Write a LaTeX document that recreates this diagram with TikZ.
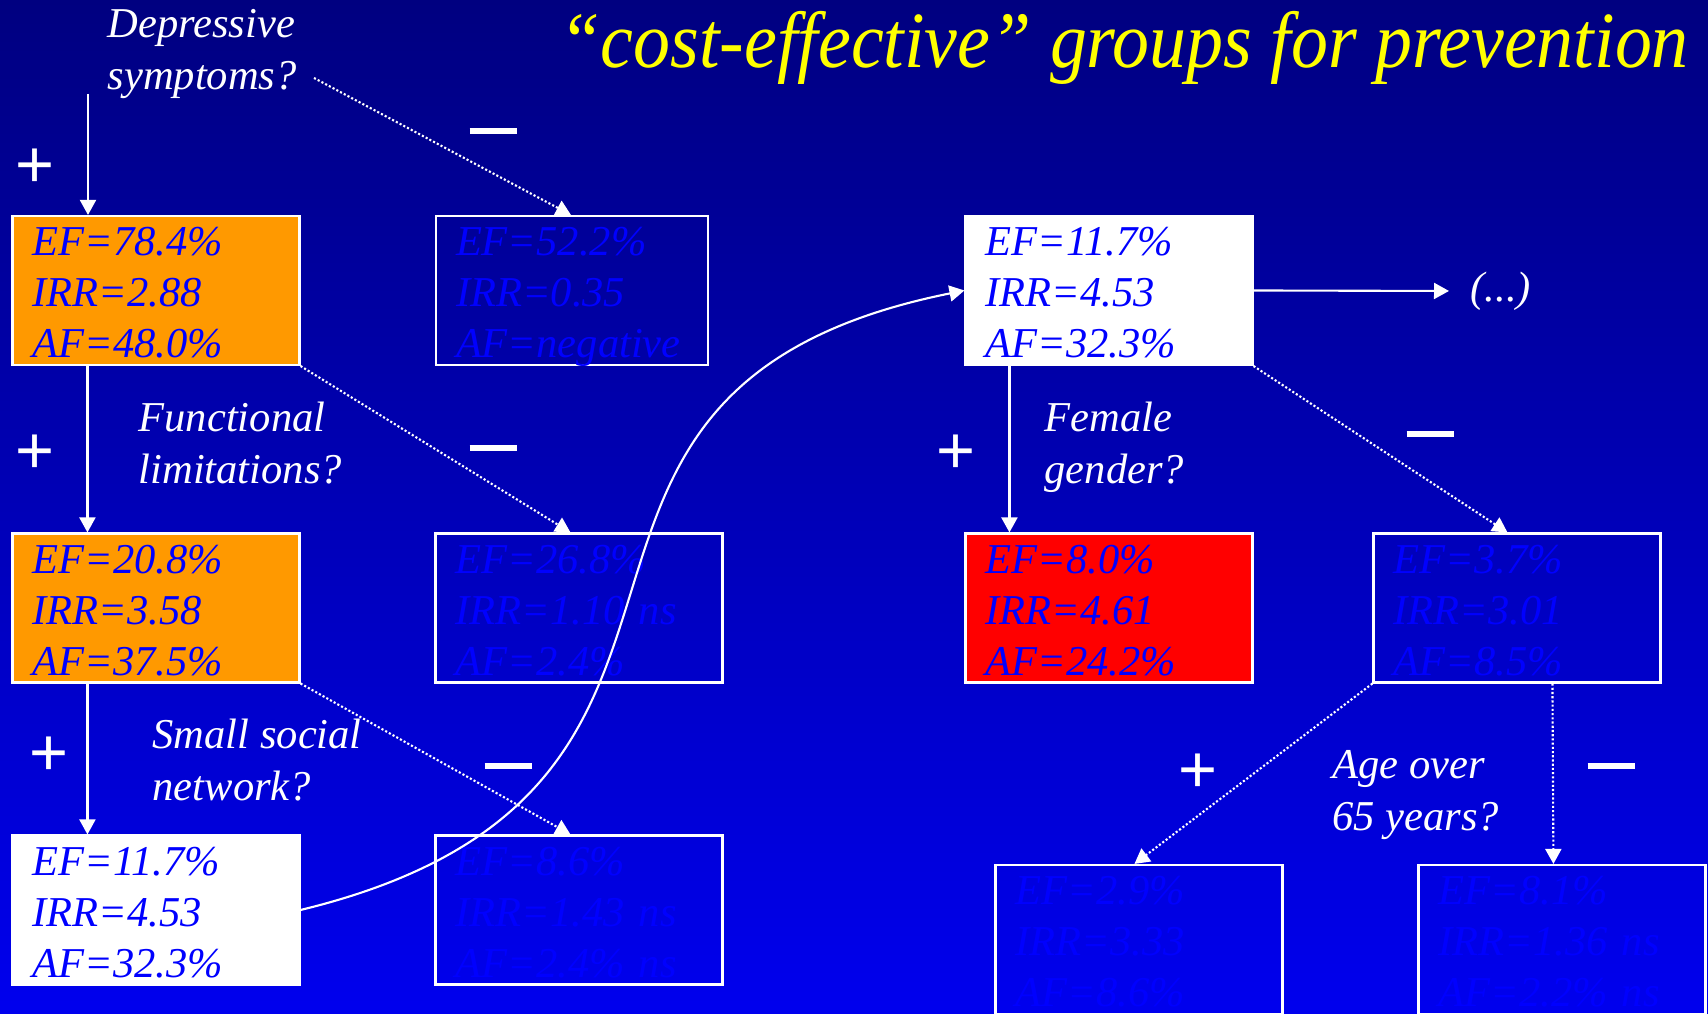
\documentclass[tikz,border=0pt]{standalone}
\usepackage{graphicx}
\usepackage{fontspec}
\setmainfont{Liberation Serif}
\newfontfamily\signfont{Liberation Sans}
\usetikzlibrary{arrows.meta,positioning}
\definecolor{navytop}{RGB}{0,0,128}
\definecolor{bluebot}{RGB}{0,0,238}
\definecolor{pporange}{RGB}{255,153,0}
\definecolor{ppyellow}{RGB}{255,255,0}
\tikzset{
  cbox/.style={draw=white, line width=0.6pt, rectangle, minimum width=2.87cm, minimum height=1.49cm,
    text width=2.47cm, text height=0.40cm, text depth=1.09cm, inner xsep=0.2cm, inner ysep=0pt,
    align=left, text=blue, font=\fontsize{12.1}{14.5}\selectfont\itshape},
  qlabel/.style={text=white, anchor=west, inner sep=0pt, align=left, font=\fontsize{12.1}{14.8}\selectfont\itshape},
  plusmark/.style={text=white, inner sep=0pt, font=\signfont\fontsize{19}{19}\selectfont},
  minusmark/.style={text=white, inner sep=0pt},
  link/.style={draw=white, line width=0.6pt, -{Triangle[width=0.16cm,length=0.15cm]}},
  dotlink/.style={link, dash pattern=on 0.6pt off 0.6pt},
}
\begin{document}
\begin{tikzpicture}
\useasboundingbox (0,0) rectangle (17.08,10.14);
\shade[top color=navytop, bottom color=bluebot] (0,0) rectangle (17.08,10.14);

\node[anchor=base west, inner sep=0pt, text=ppyellow, font=\fontsize{22.7}{24}\selectfont\itshape] (title) at (5.59,9.465)
  {\resizebox{11.29cm}{\height}{“cost-effective” groups for prevention}};

\node[cbox, fill=pporange] (a1) at (1.56,7.235) {EF=78.4\%\\IRR=2.88\\AF=48.0\%};
\node[cbox, fill=pporange] (a2) at (1.56,4.06) {EF=20.8\%\\IRR=3.58\\AF=37.5\%};
\node[cbox, fill=white] (a3) at (1.56,1.04) {EF=11.7\%\\IRR=4.53\\AF=32.3\%};
\node[cbox, minimum width=2.72cm, text width=2.32cm] (b1) at (5.72,7.235) {EF=52.2\%\\IRR=0.35\\AF=negative};
\node[cbox] (b2) at (5.79,4.06) {EF=26.8\%\\IRR=1.10 ns\\AF=2.4\%};
\node[cbox] (b3) at (5.79,1.04) {EF=8.6\%\\IRR=1.43 ns\\AF=2.4\% ns};
\node[cbox, fill=white] (c1) at (11.09,7.235) {EF=11.7\%\\IRR=4.53\\AF=32.3\%};
\node[cbox, fill=red] (c2) at (11.09,4.06) {EF=8.0\%\\IRR=4.61\\AF=24.2\%};
\node[cbox] (d2) at (15.17,4.06) {EF=3.7\%\\IRR=3.01\\AF=8.5\%};
\node[cbox] (c3) at (11.39,0.745) {EF=2.9\%\\IRR=3.33\\AF=8.6\%};
\node[cbox] (d3) at (15.62,0.745) {EF=8.1\%\\IRR=1.36 ns\\AF=2.2\% ns};

\node[qlabel] (dep) at (1.07,9.595) {Depressive\\symptoms?};
\node[qlabel] (func) at (1.38,5.71) {Functional\\limitations?};
\node[qlabel] (social) at (1.52,2.535) {Small social\\network?};
\node[qlabel] (female) at (10.44,5.67) {Female\\gender?};
\node[qlabel] (age) at (13.32,2.19) {Age over\\65 years?};
\node[qlabel, inner xsep=0.21cm] (more) at (14.49,7.23) {(...)};

\node[plusmark] (p1) at (0.35,8.46) {+};
\node[plusmark] (p2) at (0.35,5.595) {+};
\node[plusmark] (p3) at (0.49,2.575) {+};
\node[plusmark] (p4) at (9.56,5.595) {+};
\node[plusmark] (p5) at (11.98,2.405) {+};
\node[minusmark] (m1) at (4.93,8.83) {\rule{0.47cm}{0.06cm}};
\node[minusmark] (m2) at (4.93,5.66) {\rule{0.47cm}{0.06cm}};
\node[minusmark] (m3) at (5.08,2.48) {\rule{0.47cm}{0.06cm}};
\node[minusmark] (m4) at (14.30,5.80) {\rule{0.47cm}{0.06cm}};
\node[minusmark] (m5) at (16.11,2.48) {\rule{0.47cm}{0.06cm}};

\coordinate (dtop) at (0.88,9.20);
\coordinate (dq) at (3.14,9.36);
\draw[link] (dtop) -- (dtop |- a1.north);
\draw[dotlink] (dq) -- ([xshift=1.36cm]b1.north west);
\draw[link] ([xshift=0.76cm]a1.south west) -- ([xshift=0.76cm]a2.north west);
\draw[dotlink] (a1.south east) -- ([xshift=1.36cm]b2.north west);
\draw[link] ([xshift=0.76cm]a2.south west) -- ([xshift=0.76cm]a3.north west);
\draw[dotlink] (a2.south east) -- ([xshift=1.36cm]b3.north west);
\draw[link] (a3.east) .. controls (8.00,2.25) and (4.65,6.23) .. (c1.west);
\draw[link] (c1.east) -- (more.west);
\draw[link] ([xshift=0.45cm]c1.south west) -- ([xshift=0.45cm]c2.north west);
\draw[dotlink] (c1.south east) -- ([xshift=1.35cm]d2.north west);
\draw[dotlink] (d2.south west) -- ([xshift=1.40cm]c3.north west);
\draw[dotlink] ([xshift=1.80cm]d2.south west) -- ([xshift=1.36cm]d3.north west);
\end{tikzpicture}
\end{document}
